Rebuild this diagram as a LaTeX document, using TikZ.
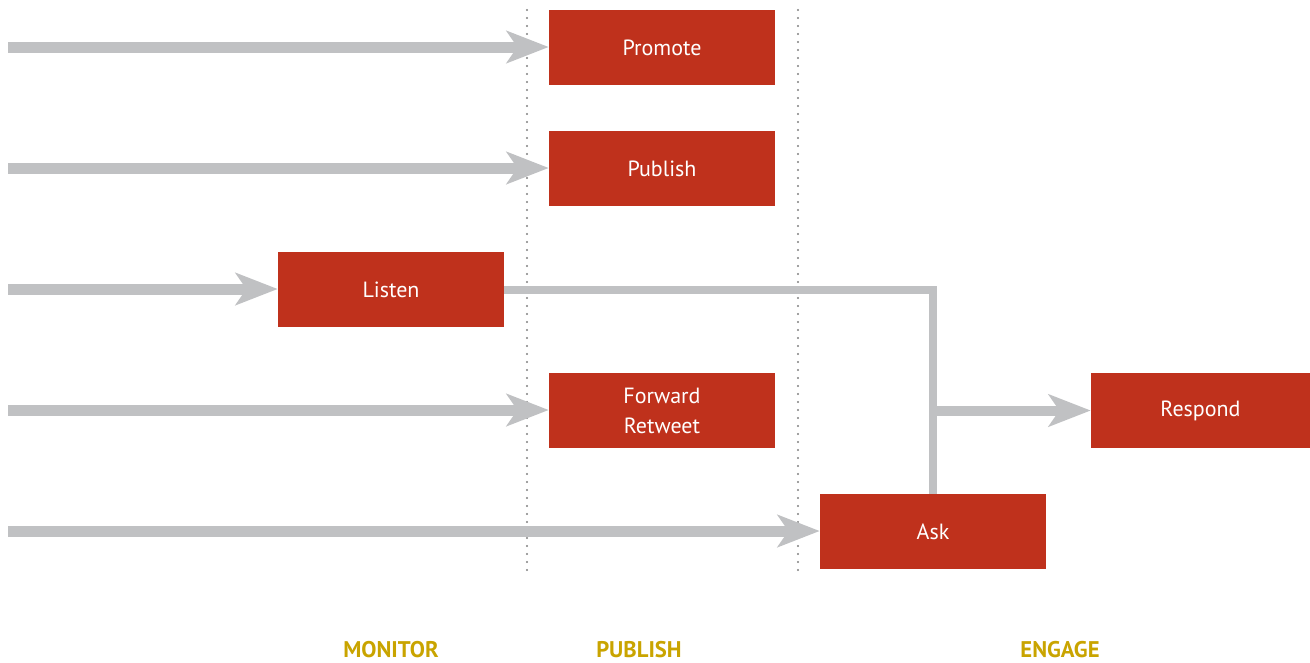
\documentclass[tikz,border=0pt]{standalone}
\usepackage{fontspec}
\setmainfont{PT Sans}
\usetikzlibrary{arrows.meta}
\definecolor{boxred}{HTML}{BF311C}
\definecolor{flowgray}{HTML}{C0C1C3}
\definecolor{phasegold}{HTML}{C9A400}

\begin{document}
\begin{tikzpicture} [x=0.75pt, y=-0.75pt,
        task/.style={shape=rectangle, fill=boxred, text=white, inner sep=0pt, align=center,
            minimum width=169.5pt, minimum height=56.25pt, font=\fontsize{16.5}{22.5}\selectfont},
        flow/.style={draw=flowgray, line width=8.25pt, -{Stealth[length=31.5pt, width=24pt, inset=8pt]}},
        link/.style={draw=flowgray, line width=6pt},
        divider/.style={draw=black!50, line width=1.8pt, line cap=round, dash pattern=on 0pt off 6pt},
        phase/.style={text=phasegold, font=\fontsize{17}{18}\selectfont\bfseries}]
        \useasboundingbox (0, 0) rectangle (1310, 662);
        % phase dividers
        \draw [divider] (527, 10) -- (527, 570);
        \draw [divider] (798, 10) -- (798, 570);
        % tasks
        \node [task] (promote) at (662, 47.5) {Promote};
        \node [task] (publish) at (662, 168.5) {Publish};
        \node [task] (listen) at (391, 289.5) {Listen};
        \node [task] (forward) at (662, 410.5) {Forward\\Retweet};
        \node [task] (ask) at (933, 531.5) {Ask};
        \node [task, minimum width=164.25pt] (respond) at (1200.5, 410.5) {Respond};
        % incoming flows
        \foreach \y/\target in {47/promote, 168/publish, 289/listen, 410/forward, 531/ask}
        {
            \coordinate (in-\target) at (8, \y);
            \draw [flow] (in-\target) -- (in-\target -| \target.west);
        }
        \draw [link] (listen.east) -| (ask.north);
        \coordinate (split) at (ask.north |- respond.west);
        \draw [flow, line width=7.5pt] (split) -- (respond.west);
        % phases
        \node [phase] (monitor) at (391, 650) {MONITOR};
        \node [phase] (publishing) at (639, 650) {PUBLISH};
        \node [phase] (engage) at (1060, 650) {ENGAGE};
    \end{tikzpicture}
\end{document}
